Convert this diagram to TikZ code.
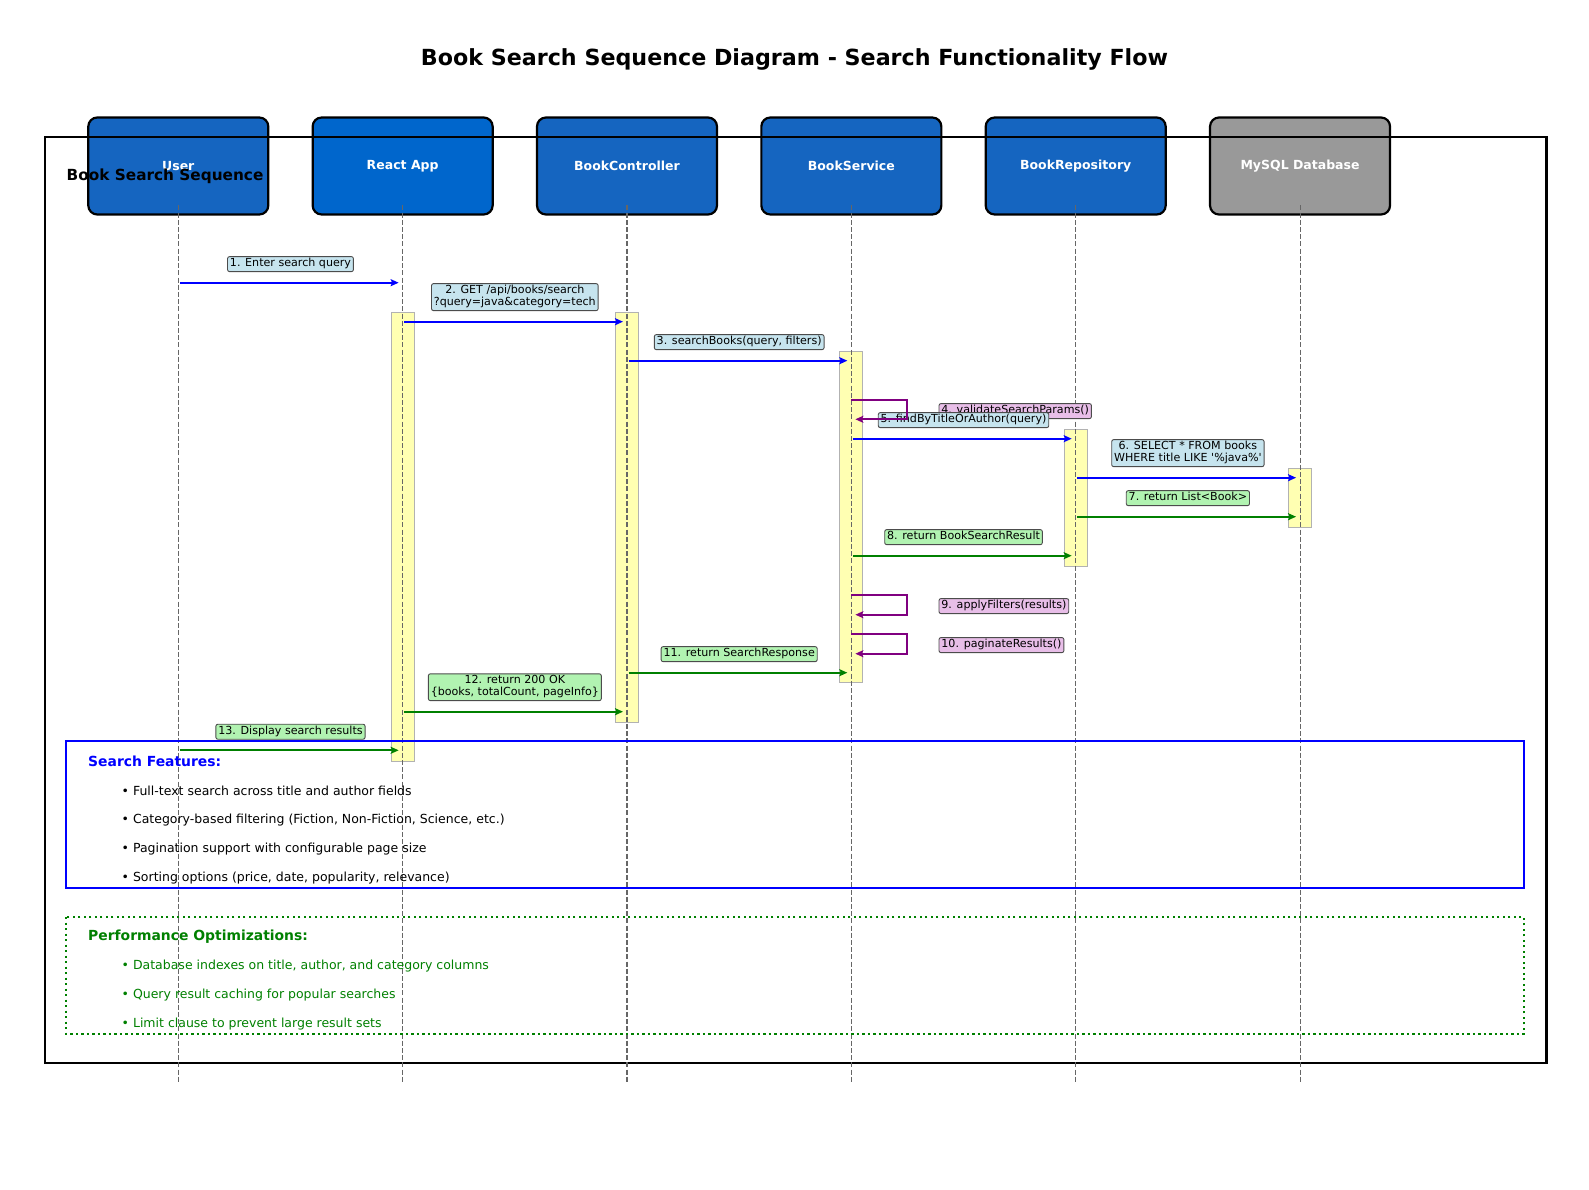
\documentclass[tikz,border=0pt]{standalone}
\usepackage{fontspec}
\setmainfont{DejaVu Sans}[Ligatures=TeXOff]
\usetikzlibrary{arrows.meta,calc}
\definecolor{boxblue}{RGB}{21,101,192}
\definecolor{reactblue}{RGB}{0,102,204}
\definecolor{dbgray}{RGB}{153,153,153}
\definecolor{lblblue}{RGB}{198,228,238}
\definecolor{lblgreen}{RGB}{177,243,177}
\definecolor{lblpink}{RGB}{232,190,232}
\definecolor{actyellow}{RGB}{255,255,178}
\definecolor{msgblue}{RGB}{0,0,255}
\definecolor{msggreen}{RGB}{0,128,0}
\definecolor{msgpurple}{RGB}{128,0,128}
\begin{document}
\begin{tikzpicture}[x=1pt,y=-1pt,
  participant/.style={draw=black, line width=2.2pt, rounded corners=9pt,
    minimum width=180pt, minimum height=97pt, inner sep=0pt, text=white,
    font=\fontsize{12.5}{15}\selectfont\bfseries},
  lifeline/.style={draw=black!60, line width=1.1pt, dash pattern=on 5pt off 2.2pt},
  activation/.style={fill=actyellow, draw=black!30, line width=1pt},
  msg/.style={line width=2pt, -{Stealth[length=8pt,width=7pt,inset=1.5pt]},
    shorten <=1.5pt, shorten >=4pt},
  selfmsg/.style={line width=2pt, draw=msgpurple, -{Stealth[length=8pt,width=7pt,inset=1.5pt]},
    shorten >=4pt},
  lbl/.style={draw=black!70, line width=0.9pt, rounded corners=2pt,
    inner xsep=2.4pt, inner ysep=1.5pt, align=center,
    font=\fontsize{11.1}{12}\selectfont,
    execute at begin node=\strut, execute at end node=\strut},
  lblreq/.style={lbl, fill=lblblue, anchor=south, yshift=10.6pt},
  lblret/.style={lbl, fill=lblgreen, anchor=south, yshift=10.6pt},
  lblself/.style={lbl, fill=lblpink, anchor=west, xshift=87.2pt, yshift=-11.4pt},
  headtext/.style={anchor=west, inner sep=0pt, font=\fontsize{13.9}{16}\selectfont\bfseries},
  bullettext/.style={anchor=west, inner sep=0pt, font=\fontsize{12.5}{15}\selectfont}
]
\useasboundingbox (0,0) rectangle (1589,1190);

% title
\node[font=\fontsize{22.2}{26}\selectfont\bfseries] (title) at (794.5,59)
  {Book Search Sequence Diagram - Search Functionality Flow};

% participants
\node[participant, fill=boxblue]   (u)  at (178.3,166)  {User};
\node[participant, fill=reactblue] (ra) at (402.65,166) {React App};
\node[participant, fill=boxblue]   (bc) at (627,166)    {BookController};
\node[participant, fill=boxblue]   (bs) at (851.35,166) {BookService};
\node[participant, fill=boxblue]   (br) at (1075.7,166) {BookRepository};
\node[participant, fill=dbgray]    (db) at (1300.05,166){MySQL Database};

% frame
\draw[line width=2.2pt] (44.6,136.8) rectangle (1546.5,1063);
\node[anchor=west, inner sep=0pt, font=\fontsize{15.3}{18}\selectfont\bfseries]
  (frametitle) at (66.5,176) {Book Search Sequence};

% message rows
\coordinate (lltop) at (0,205.5);
\coordinate (llbot) at (0,1082);
\coordinate (r1)  at (0,282.7);
\coordinate (r2)  at (0,321.7);
\coordinate (r3)  at (0,360.7);
\coordinate (r4)  at (0,399.7);
\coordinate (r5)  at (0,438.7);
\coordinate (r6)  at (0,477.7);
\coordinate (r7)  at (0,516.7);
\coordinate (r8)  at (0,555.7);
\coordinate (r9)  at (0,594.7);
\coordinate (r10) at (0,633.7);
\coordinate (r11) at (0,672.7);
\coordinate (r12) at (0,711.7);
\coordinate (r13) at (0,750.3);

% activation boxes
\draw[activation] (391.15,312.3) rectangle (414.15,761.2);
\draw[activation] (615.5,312.3) rectangle (638.5,722.2);
\draw[activation] (839.85,351.3) rectangle (862.85,682.2);
\draw[activation] (1064.2,429.2) rectangle (1087.2,566);
\draw[activation] (1288.55,468.3) rectangle (1311.55,527.3);

% lifelines
\foreach \p in {u,ra,bc,bs,br,db}
  \draw[lifeline] (\p |- lltop) -- (\p |- llbot);

% note boxes
\draw[draw=msgblue, line width=2.2pt] (66,741) rectangle (1524,888);
\node[headtext, text=msgblue] (sfh) at (88,761.5) {Search Features:};
\node[bullettext] (sf1) at (121.5,790.6) {• Full-text search across title and author fields};
\node[bullettext] (sf2) at (121.5,819.8) {• Category-based filtering (Fiction, Non-Fiction, Science, etc.)};
\node[bullettext] (sf3) at (121.5,848.8) {• Pagination support with configurable page size};
\node[bullettext] (sf4) at (121.5,877.8) {• Sorting options (price, date, popularity, relevance)};

\draw[draw=msggreen, line width=2.2pt, dash pattern=on 2.2pt off 3.3pt] (66,917) rectangle (1524,1033.7);
\node[headtext, text=msggreen] (poh) at (88,937) {Performance Optimizations:};
\node[bullettext, text=msggreen] (po1) at (121.5,966.4) {• Database indexes on title, author, and category columns};
\node[bullettext, text=msggreen] (po2) at (121.5,995.2) {• Query result caching for popular searches};
\node[bullettext, text=msggreen] (po3) at (121.5,1024.2) {• Limit clause to prevent large result sets};

% message labels
\node[lblreq] (l1) at ($(u |- r1)!0.5!(ra |- r1)$) {1. Enter search query};
\node[lblreq] (l2) at ($(ra |- r2)!0.5!(bc |- r2)$) {2. GET /api/books/search\\?query=java\&category=tech};
\node[lblreq] (l3) at ($(bc |- r3)!0.5!(bs |- r3)$) {3. searchBooks(query, filters)};
\node[lblself] (l4) at (bs |- r4) {4. validateSearchParams()};
\node[lblreq] (l5) at ($(bs |- r5)!0.5!(br |- r5)$) {5. findByTitleOrAuthor(query)};
\node[lblreq] (l6) at ($(br |- r6)!0.5!(db |- r6)$) {6. SELECT * FROM books\\WHERE title LIKE '\%java\%'};
\node[lblret] (l7) at ($(br |- r7)!0.5!(db |- r7)$) {7. return List<Book>};
\node[lblret] (l8) at ($(bs |- r8)!0.5!(br |- r8)$) {8. return BookSearchResult};
\node[lblself] (l9) at (bs |- r9) {9. applyFilters(results)};
\node[lblself] (l10) at (bs |- r10) {10. paginateResults()};
\node[lblret] (l11) at ($(bc |- r11)!0.5!(bs |- r11)$) {11. return SearchResponse};
\node[lblret] (l12) at ($(ra |- r12)!0.5!(bc |- r12)$) {12. return 200 OK\\\{books, totalCount, pageInfo\}};
\node[lblret] (l13) at ($(u |- r13)!0.5!(ra |- r13)$) {13. Display search results};

% messages
\draw[msg, msgblue]  (u |- r1)  -- (ra |- r1);
\draw[msg, msgblue]  (ra |- r2) -- (bc |- r2);
\draw[msg, msgblue]  (bc |- r3) -- (bs |- r3);
\draw[selfmsg] (bs |- r4) -- ++(56,0) -- ++(0,19.6) -- ++(-56,0);
\draw[msg, msgblue]  (bs |- r5) -- (br |- r5);
\draw[msg, msgblue]  (br |- r6) -- (db |- r6);
\draw[msg, msggreen] (br |- r7) -- (db |- r7);
\draw[msg, msggreen] (bs |- r8) -- (br |- r8);
\draw[selfmsg] (bs |- r9) -- ++(56,0) -- ++(0,20) -- ++(-56,0);
\draw[selfmsg] (bs |- r10) -- ++(56,0) -- ++(0,20) -- ++(-56,0);
\draw[msg, msggreen] (bc |- r11) -- (bs |- r11);
\draw[msg, msggreen] (ra |- r12) -- (bc |- r12);
\draw[msg, msggreen] (u |- r13) -- (ra |- r13);
\end{tikzpicture}
\end{document}
